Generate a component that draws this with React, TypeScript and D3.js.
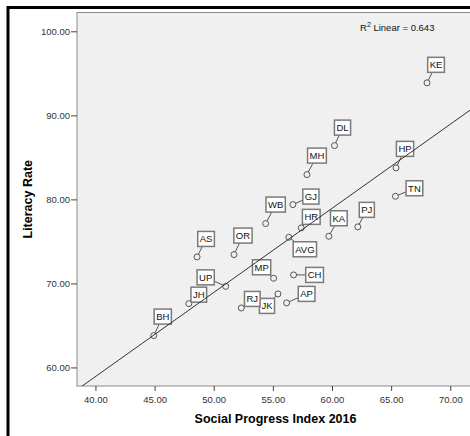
import React, { useEffect, useRef } from 'react';
import * as d3 from 'd3';

// state codes, Social Progress Index 2016 and literacy rate
const states = ['KE', 'DL', 'MH', 'HP', 'TN', 'GJ', 'WB', 'HR', 'KA', 'PJ', 'AVG',
    'AS', 'OR', 'UP', 'JH', 'BH', 'MP', 'CH', 'AP', 'JK', 'RJ'];
const socialProgress = [67.99, 60.17, 57.84, 65.37, 65.32, 56.65, 54.35, 57.36, 59.69, 62.14, 56.31,
    48.55, 51.67, 50.97, 47.85, 44.89, 55.02, 56.71, 56.12, 55.39, 52.29];
const literacy = [93.93, 86.46, 83.01, 83.81, 80.43, 79.44, 77.18, 76.67, 75.67, 76.79, 75.55,
    73.21, 73.49, 69.71, 67.65, 63.85, 70.67, 71.07, 67.74, 68.81, 67.14];

const xTicks = [40, 45, 50, 55, 60, 65, 70];
const yTicks = [60, 70, 80, 90, 100];

// where each label box sits relative to its point (pixels)
const labelOffsets = [[9, -18], [8, -18], [10, -19], [9, -19], [19, -8], [18, -8], [10, -19], [10, -11],
    [10, -18], [9, -17], [16, 12], [9, -18], [9, -19], [-20, -9], [10, -9], [9, -19], [-12, -11],
    [21, 0], [20, -9], [-11, 12], [11, -9]];

const W = 470;
const H = 436;
const plot = { left: 77, top: 12.5, right: 478, bottom: 386 };

function App() {
    const svgRef = useRef<SVGSVGElement>(null);

    useEffect(() => {
        const svg = d3.select(svgRef.current);
        svg.selectAll('*').remove();

        const x = d3.scaleLinear().domain([38.4, 72.3]).range([plot.left, plot.right]);
        const y = d3.scaleLinear().domain([57.85, 102.3]).range([plot.bottom, plot.top]);

        // outer frame
        svg.append('rect')
            .attr('x', 8).attr('y', 7.5)
            .attr('width', 500).attr('height', 460)
            .attr('fill', 'white').attr('stroke', 'black').attr('stroke-width', 3);

        svg.append('defs').append('clipPath').attr('id', 'plotclip')
            .append('rect')
            .attr('x', plot.left).attr('y', plot.top)
            .attr('width', plot.right - plot.left).attr('height', plot.bottom - plot.top);

        svg.append('rect')
            .attr('x', plot.left).attr('y', plot.top)
            .attr('width', plot.right - plot.left).attr('height', plot.bottom - plot.top)
            .attr('fill', '#f0f0f0').attr('stroke', '#8a8a8a').attr('stroke-width', 1);

        // axes
        const tickFont = '9.5px "Liberation Sans", Arial, sans-serif';
        const yAxis = svg.append('g');
        yTicks.forEach(t => {
            yAxis.append('line')
                .attr('x1', plot.left - 6).attr('x2', plot.left)
                .attr('y1', y(t)).attr('y2', y(t))
                .attr('stroke', '#444');
            yAxis.append('text')
                .attr('x', plot.left - 7).attr('y', y(t) + 3.3)
                .attr('text-anchor', 'end')
                .style('font', tickFont).attr('fill', '#333')
                .text(t.toFixed(2));
        });
        const xAxis = svg.append('g');
        xTicks.forEach(t => {
            xAxis.append('line')
                .attr('x1', x(t)).attr('x2', x(t))
                .attr('y1', plot.bottom).attr('y2', plot.bottom + 5)
                .attr('stroke', '#444');
            xAxis.append('text')
                .attr('x', x(t)).attr('y', plot.bottom + 17)
                .attr('text-anchor', 'middle')
                .style('font', tickFont).attr('fill', '#333')
                .text(t.toFixed(2));
        });

        const titleFont = 'bold 12.5px "Liberation Sans", Arial, sans-serif';
        svg.append('text')
            .attr('x', (plot.left + 470) / 2 + 2).attr('y', 423)
            .attr('text-anchor', 'middle')
            .style('font', titleFont)
            .text('Social Progress Index 2016');
        svg.append('text')
            .attr('transform', `translate(32, ${(plot.top + plot.bottom) / 2}) rotate(-90)`)
            .attr('text-anchor', 'middle')
            .style('font', titleFont)
            .text('Literacy Rate');

        // points and labels
        const r = 3;
        const labelFont = '9.5px "Liberation Sans", Arial, sans-serif';
        const g = svg.append('g');
        states.forEach((s, i) => {
            const cx = x(socialProgress[i]);
            const cy = y(literacy[i]);
            const [dx, dy] = labelOffsets[i];
            const bx = cx + dx;
            const by = cy + dy;
            const len = Math.hypot(dx, dy);
            g.append('line')
                .attr('x1', cx + dx / len * r).attr('y1', cy + dy / len * r)
                .attr('x2', bx).attr('y2', by)
                .attr('stroke', '#555').attr('stroke-width', 1);
            g.append('circle')
                .attr('cx', cx).attr('cy', cy).attr('r', r)
                .attr('fill', 'none').attr('stroke', '#555').attr('stroke-width', 1);

            const box = g.append('rect');
            const txt = g.append('text')
                .attr('x', bx).attr('y', by + 3.4)
                .attr('text-anchor', 'middle')
                .style('font', labelFont).attr('fill', '#111')
                .text(s);
            const tw = (txt.node() as SVGTextElement).getComputedTextLength();
            box.attr('x', bx - tw / 2 - 2).attr('y', by - 7.5)
                .attr('width', tw + 4).attr('height', 15)
                .attr('fill', 'white').attr('stroke', '#7a7a7a').attr('stroke-width', 1.5);
        });

        // linear fit
        const mx = d3.mean(socialProgress) as number;
        const my = d3.mean(literacy) as number;
        let sxy = 0, sxx = 0, syy = 0;
        socialProgress.forEach((v, i) => {
            sxy += (v - mx) * (literacy[i] - my);
            sxx += (v - mx) ** 2;
            syy += (literacy[i] - my) ** 2;
        });
        const slope = sxy / sxx;
        const intercept = my - slope * mx;
        const r2 = (sxy * sxy) / (sxx * syy);
        const [x0, x1] = x.domain();
        svg.append('line')
            .attr('clip-path', 'url(#plotclip)')
            .attr('x1', x(x0)).attr('y1', y(intercept + slope * x0))
            .attr('x2', x(x1)).attr('y2', y(intercept + slope * x1))
            .attr('stroke', '#333').attr('stroke-width', 1);

        const rt = svg.append('text')
            .attr('x', 360).attr('y', 30.5)
            .style('font', labelFont).attr('fill', '#111');
        rt.append('tspan').text('R');
        rt.append('tspan').attr('dy', -4).style('font-size', '7px').text('2');
        rt.append('tspan').attr('dy', 4).text(` Linear = ${r2.toFixed(3)}`);
    }, []);

    return (
        <svg ref={svgRef} width={W} height={H}
            style={{ position: 'absolute', left: 0, top: 0, display: 'block' }} />
    );
}

export default App;
